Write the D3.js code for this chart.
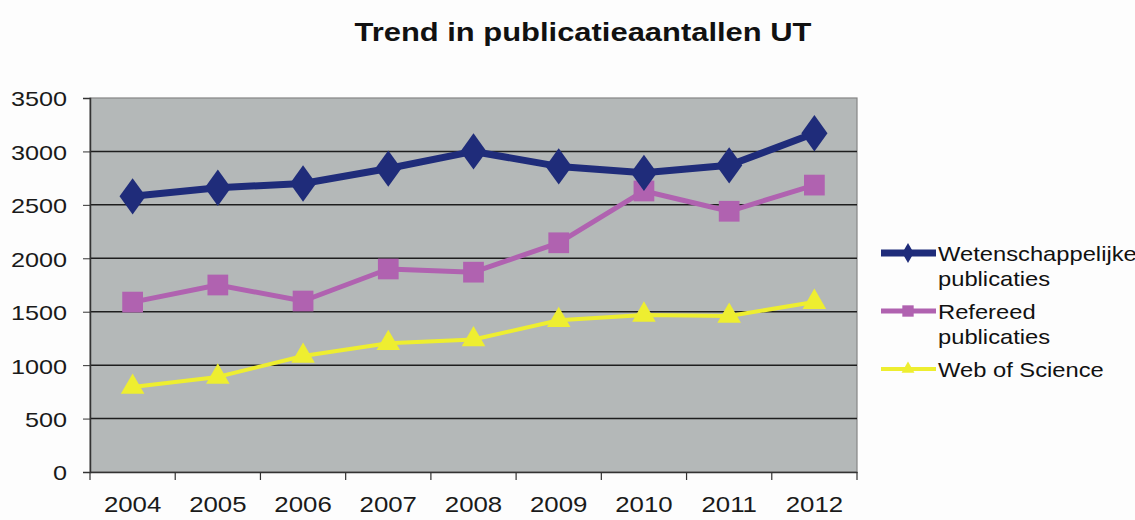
<!DOCTYPE html>
<html><head><meta charset="utf-8">
<script src="https://cdn.jsdelivr.net/npm/d3@7"></script>
<style>body{margin:0;background:#fdfdfd;}svg{display:block;font-family:"Liberation Sans",Arial,sans-serif;}</style>
</head><body>
<svg id="c" width="1135" height="520"></svg>
<script>
const years = ["2004","2005","2006","2007","2008","2009","2010","2011","2012"];
const wetenschappelijk = [2580,2660,2700,2840,3000,2860,2800,2870,3170];
const refereed = [1590,1750,1600,1900,1870,2145,2630,2440,2685];
const webOfScience = [795,890,1085,1205,1240,1420,1470,1460,1590];
const yTicks = [0,500,1000,1500,2000,2500,3000,3500];

const svg = d3.select("#c");
const L=90, R=857, T=98, B=472;
const x = d3.scaleBand().domain(years).range([L,R]);
const y = d3.scaleLinear().domain([0,3500]).range([B,T]);

function stretch(sel, f){
  sel.each(function(){
    const w = this.getComputedTextLength();
    d3.select(this).attr("textLength", w*f).attr("lengthAdjust","spacingAndGlyphs");
  });
}

svg.append("rect").attr("x",L).attr("y",T).attr("width",R-L).attr("height",B-T)
  .attr("fill","#b4b8b8").attr("stroke","#858585").attr("stroke-width",1.2);

svg.append("g").selectAll("line").data(yTicks.filter(d=>d>0 && d<3500)).join("line")
  .attr("x1",L).attr("x2",R).attr("y1",d=>y(d)).attr("y2",d=>y(d))
  .attr("stroke","#1e1e1e").attr("stroke-width",1.5);

const yAxis = d3.axisLeft(y).tickValues(yTicks).tickFormat(d3.format("d")).tickSize(7).tickPadding(16);
const gy = svg.append("g").attr("transform",`translate(${L},0)`).call(yAxis);
gy.select(".domain").attr("stroke","#333").attr("stroke-width",1.5);
gy.selectAll(".tick line").attr("stroke","#333");
gy.selectAll("text").attr("font-size",21).attr("fill","#1a1a1a").attr("dy","0.38em");
stretch(gy.selectAll("text"), 1.2);

const gx = svg.append("g").attr("transform",`translate(0,${B})`).call(d3.axisBottom(x).tickSize(0).tickPadding(25));
gx.select(".domain").attr("stroke","#333").attr("stroke-width",1.5);
gx.selectAll("text").attr("font-size",21.5).attr("fill","#1a1a1a");
stretch(gx.selectAll("text"), 1.2);
const bounds = years.map(d=>x(d)).concat([R]);
svg.append("g").selectAll("line").data(bounds).join("line")
  .attr("x1",d=>d).attr("x2",d=>d).attr("y1",B).attr("y2",B+8)
  .attr("stroke","#333").attr("stroke-width",1.2);

const cx = d => x(d)+x.bandwidth()/2;
const series = [
  {name:"Wetenschappelijke publicaties", values:wetenschappelijk, color:"#1f2c7a", width:7, sym:d3.symbolDiamond, size:380},
  {name:"Refereed publicaties", values:refereed, color:"#b062b0", width:5, sym:d3.symbolSquare, size:430},
  {name:"Web of Science", values:webOfScience, color:"#eeee30", width:4, sym:d3.symbolTriangle, size:240}
];
const line = d3.line().x((d,i)=>cx(years[i])).y(d=>y(d));
series.slice().reverse().forEach(s=>{
  const g = svg.append("g");
  g.append("path").attr("d",line(s.values)).attr("fill","none").attr("stroke",s.color)
    .attr("stroke-width",s.width).attr("stroke-linejoin","round");
  g.selectAll("path.m").data(s.values).join("path").attr("class","m")
    .attr("transform",(d,i)=>`translate(${cx(years[i])},${y(d)})${s.sym===d3.symbolDiamond?" scale(1.25,1)":""}`)
    .attr("d",d3.symbol().type(s.sym).size(s.size)).attr("fill",s.color);
});

const title = svg.append("text").attr("x",583).attr("y",41).attr("text-anchor","middle")
  .attr("font-size",25).attr("font-weight","bold").attr("fill","#111")
  .text("Trend in publicatieaantallen UT");
title.attr("textLength",457).attr("lengthAdjust","spacingAndGlyphs");

const leg = [
  {s:series[0], lines:["Wetenschappelijke","publicaties"], y:253},
  {s:series[1], lines:["Refereed","publicaties"], y:311},
  {s:series[2], lines:["Web of Science"], y:369}
];
leg.forEach(l=>{
  const g = svg.append("g");
  g.append("line").attr("x1",881).attr("x2",936).attr("y1",l.y).attr("y2",l.y)
    .attr("stroke",l.s.color).attr("stroke-width",l.s.width);
  g.append("path").attr("transform",`translate(908,${l.y})`)
    .attr("d",d3.symbol().type(l.s.sym).size(l.s.size*0.3)).attr("fill",l.s.color);
  l.lines.forEach((t,i)=>{
    const tx = g.append("text").attr("x",938).attr("y",l.y+8+i*25).attr("font-size",21).attr("fill","#111").text(t);
    stretch(tx, 1.13);
  });
});
</script>
</body></html>
